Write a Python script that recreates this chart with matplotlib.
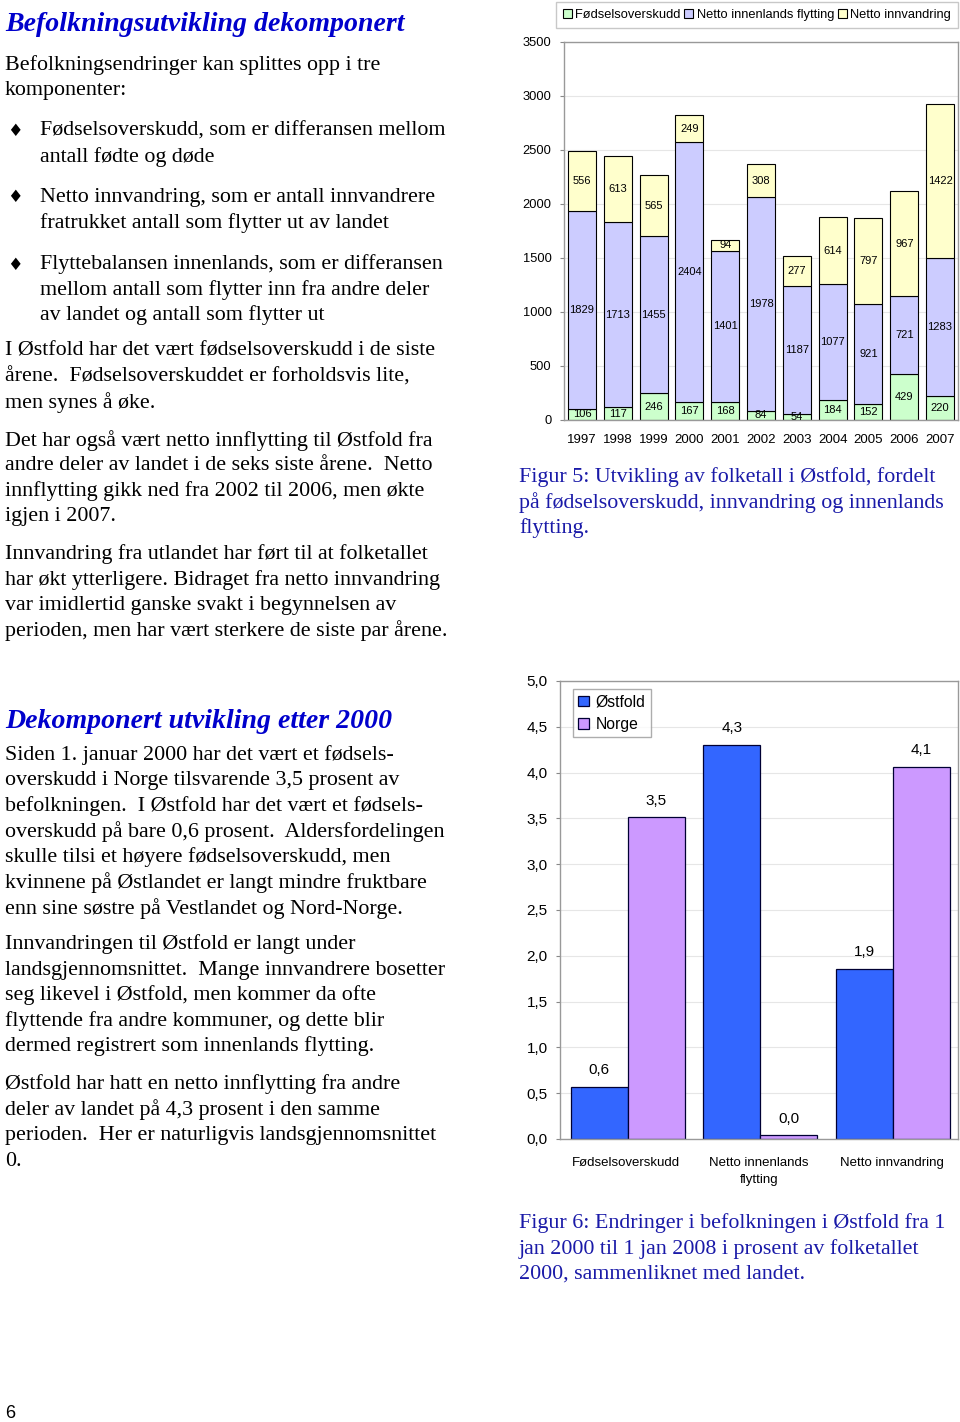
import numpy as np
import matplotlib.pyplot as plt

# --- data -------------------------------------------------------------
years = ['1997', '1998', '1999', '2000', '2001', '2002', '2003', '2004', '2005', '2006', '2007']
fodsel = [106, 117, 246, 167, 168, 84, 54, 184, 152, 429, 220]
innenlands = [1829, 1713, 1455, 2404, 1401, 1978, 1187, 1077, 921, 721, 1283]
innvandring = [556, 613, 565, 249, 94, 308, 277, 614, 797, 967, 1422]
series_names = ['Fødselsoverskudd', 'Netto innenlands flytting', 'Netto innvandring']

components = ['Fødselsoverskudd', 'Netto innenlands\nflytting', 'Netto innvandring']
ostfold = [0.57, 4.30, 1.86]
norge = [3.51, 0.04, 4.06]

W, H = 960, 1422
fig = plt.figure(figsize=(W / 100, H / 100), dpi=100)

SERIF = 'Liberation Serif'
SANS = 'Liberation Sans'
BLUE_HEAD = '#0000CC'
BLUE_CAP = '#1A1AA8'
BODY = 15.8
HEAD = 20.1


def px(x, y):
    return x / W, 1 - y / H


def put(x, y, s, **kw):
    kw.setdefault('family', SERIF)
    kw.setdefault('fontsize', BODY)
    kw.setdefault('va', 'center')
    fig.text(*px(x, y + 2.5), s, **kw)


def para(x, y0, lines, step=25.5, **kw):
    for i, ln in enumerate(lines):
        put(x, y0 + i * step, ln, **kw)


# --- left column text -------------------------------------------------
put(5, 22, 'Befolkningsutvikling dekomponert', fontsize=HEAD, weight='bold',
    style='italic', color=BLUE_HEAD)
para(5, 63, ['Befolkningsendringer kan splittes opp i tre', 'komponenter:'])

bullets = [
    (129, ['Fødselsoverskudd, som er differansen mellom', 'antall fødte og døde']),
    (195, ['Netto innvandring, som er antall innvandrere',
           'fratrukket antall som flytter ut av landet']),
    (262, ['Flyttebalansen innenlands, som er differansen',
           'mellom antall som flytter inn fra andre deler',
           'av landet og antall som flytter ut']),
]
for y0, lines in bullets:
    put(7, y0, '\u2666', family='DejaVu Sans', fontsize=12.5)
    para(40, y0, lines)

para(5, 349, ['I Østfold har det vært fødselsoverskudd i de siste',
              'årene.  Fødselsoverskuddet er forholdsvis lite,',
              'men synes å øke.'])
para(5, 438, ['Det har også vært netto innflytting til Østfold fra',
              'andre deler av landet i de seks siste årene.  Netto',
              'innflytting gikk ned fra 2002 til 2006, men økte',
              'igjen i 2007.'])
para(5, 552, ['Innvandring fra utlandet har ført til at folketallet',
              'har økt ytterligere. Bidraget fra netto innvandring',
              'var imidlertid ganske svakt i begynnelsen av',
              'perioden, men har vært sterkere de siste par årene.'])

put(5, 719, 'Dekomponert utvikling etter 2000', fontsize=HEAD, weight='bold',
    style='italic', color=BLUE_HEAD)
para(5, 753, ['Siden 1. januar 2000 har det vært et fødsels-',
              'overskudd i Norge tilsvarende 3,5 prosent av',
              'befolkningen.  I Østfold har det vært et fødsels-',
              'overskudd på bare 0,6 prosent.  Aldersfordelingen',
              'skulle tilsi et høyere fødselsoverskudd, men',
              'kvinnene på Østlandet er langt mindre fruktbare',
              'enn sine søstre på Vestlandet og Nord-Norge.'])
para(5, 942, ['Innvandringen til Østfold er langt under',
              'landsgjennomsnittet.  Mange innvandrere bosetter',
              'seg likevel i Østfold, men kommer da ofte',
              'flyttende fra andre kommuner, og dette blir',
              'dermed registrert som innenlands flytting.'])
para(5, 1082, ['Østfold har hatt en netto innflytting fra andre',
               'deler av landet på 4,3 prosent i den samme',
               'perioden.  Her er naturligvis landsgjennomsnittet',
               '0.'])

put(5, 1411, '6', family=SANS, fontsize=13)

# --- captions ---------------------------------------------------------
para(519, 475, ['Figur 5: Utvikling av folketall i Østfold, fordelt',
                'på fødselsoverskudd, innvandring og innenlands',
                'flytting.'], color=BLUE_CAP)
para(519, 1221, ['Figur 6: Endringer i befolkningen i Østfold fra 1',
                 'jan 2000 til 1 jan 2008 i prosent av folketallet',
                 '2000, sammenliknet med landet.'], color=BLUE_CAP)


def style_axes(ax):
    for s in ax.spines.values():
        s.set_color('#999999')
        s.set_linewidth(1.0)
    ax.set_axisbelow(True)
    ax.yaxis.grid(True, color='#E6E6E6', linewidth=0.8)
    ax.tick_params(axis='y', direction='out', length=3, color='#888888', pad=6)
    ax.tick_params(axis='x', length=0)


# --- Figure 5: stacked bars ------------------------------------------
ax1 = fig.add_axes([564 / W, 1 - 420 / H, (958 - 564) / W, (420 - 42) / H])
x = np.arange(len(years))
f = np.array(fodsel)
inn = np.array(innenlands)
iv = np.array(innvandring)
bw = 0.78
b1 = ax1.bar(x, f, bw, color='#CCFFCC', edgecolor='black', linewidth=0.8, label=series_names[0])
b2 = ax1.bar(x, inn, bw, bottom=f, color='#CCCCFF', edgecolor='black', linewidth=0.8,
             label=series_names[1])
b3 = ax1.bar(x, iv, bw, bottom=f + inn, color='#FFFFCC', edgecolor='black', linewidth=0.8,
             label=series_names[2])
for bars, vals in ((b1, f), (b2, inn), (b3, iv)):
    ax1.bar_label(bars, labels=[str(v) for v in vals], label_type='center',
                  fontsize=8, family=SANS)
ax1.set_xlim(-0.5, len(years) - 0.5)
ax1.set_ylim(0, 3500)
ax1.set_yticks(range(0, 3501, 500))
ax1.set_xticks(x)
ax1.set_xticklabels(years, family=SANS, fontsize=9.5)
ax1.tick_params(axis='x', pad=10)
for lb in ax1.get_yticklabels():
    lb.set_family(SANS)
    lb.set_fontsize(9.3)
style_axes(ax1)
fig.legend(handles=[b1, b2, b3], loc='upper right', bbox_to_anchor=px(958, 1.5), ncol=3,
           prop={'family': SANS, 'size': 9.3}, frameon=True, fancybox=False,
           edgecolor='#BBBBBB', handlelength=0.7, handleheight=0.7, handletextpad=0.25,
           columnspacing=0.3, borderpad=0.55, borderaxespad=0)

# --- Figure 6: grouped bars ------------------------------------------
ax2 = fig.add_axes([560 / W, 1 - 1139 / H, (958 - 560) / W, (1139 - 681) / H])
xc = np.arange(len(components))
w = 0.43
o = ax2.bar(xc - w / 2 + 0.01, ostfold, w, color='#3366FF', edgecolor='#000033', linewidth=0.9,
            label='Østfold')
n = ax2.bar(xc + w / 2 + 0.01, norge, w, color='#CC99FF', edgecolor='#000033', linewidth=0.9,
            label='Norge')
for bars, vals in ((o, ostfold), (n, norge)):
    ax2.bar_label(bars, labels=[f'{v:.1f}'.replace('.', ',') for v in vals], padding=7,
                  fontsize=11, family=SANS)
ax2.set_xlim(-0.5, len(components) - 0.5)
ax2.set_ylim(0, 5)
yt = np.arange(0, 5.01, 0.5)
ax2.set_yticks(yt)
ax2.set_yticklabels([f'{v:.1f}'.replace('.', ',') for v in yt], family=SANS, fontsize=11)
ax2.set_xticks(xc)
ax2.set_xticklabels(components, family=SANS, fontsize=9.5, linespacing=1.5)
ax2.tick_params(axis='x', pad=13)
style_axes(ax2)
ax2.legend(loc='upper left', bbox_to_anchor=(13 / 398, 1 - 8 / 458),
           prop={'family': SANS, 'size': 11.3}, frameon=True, fancybox=False,
           edgecolor='#999999', handlelength=0.7, handleheight=0.7, handletextpad=0.4,
           borderpad=0.35, labelspacing=0.45, borderaxespad=0)

fig.savefig('out.png', dpi=100, facecolor='white')
